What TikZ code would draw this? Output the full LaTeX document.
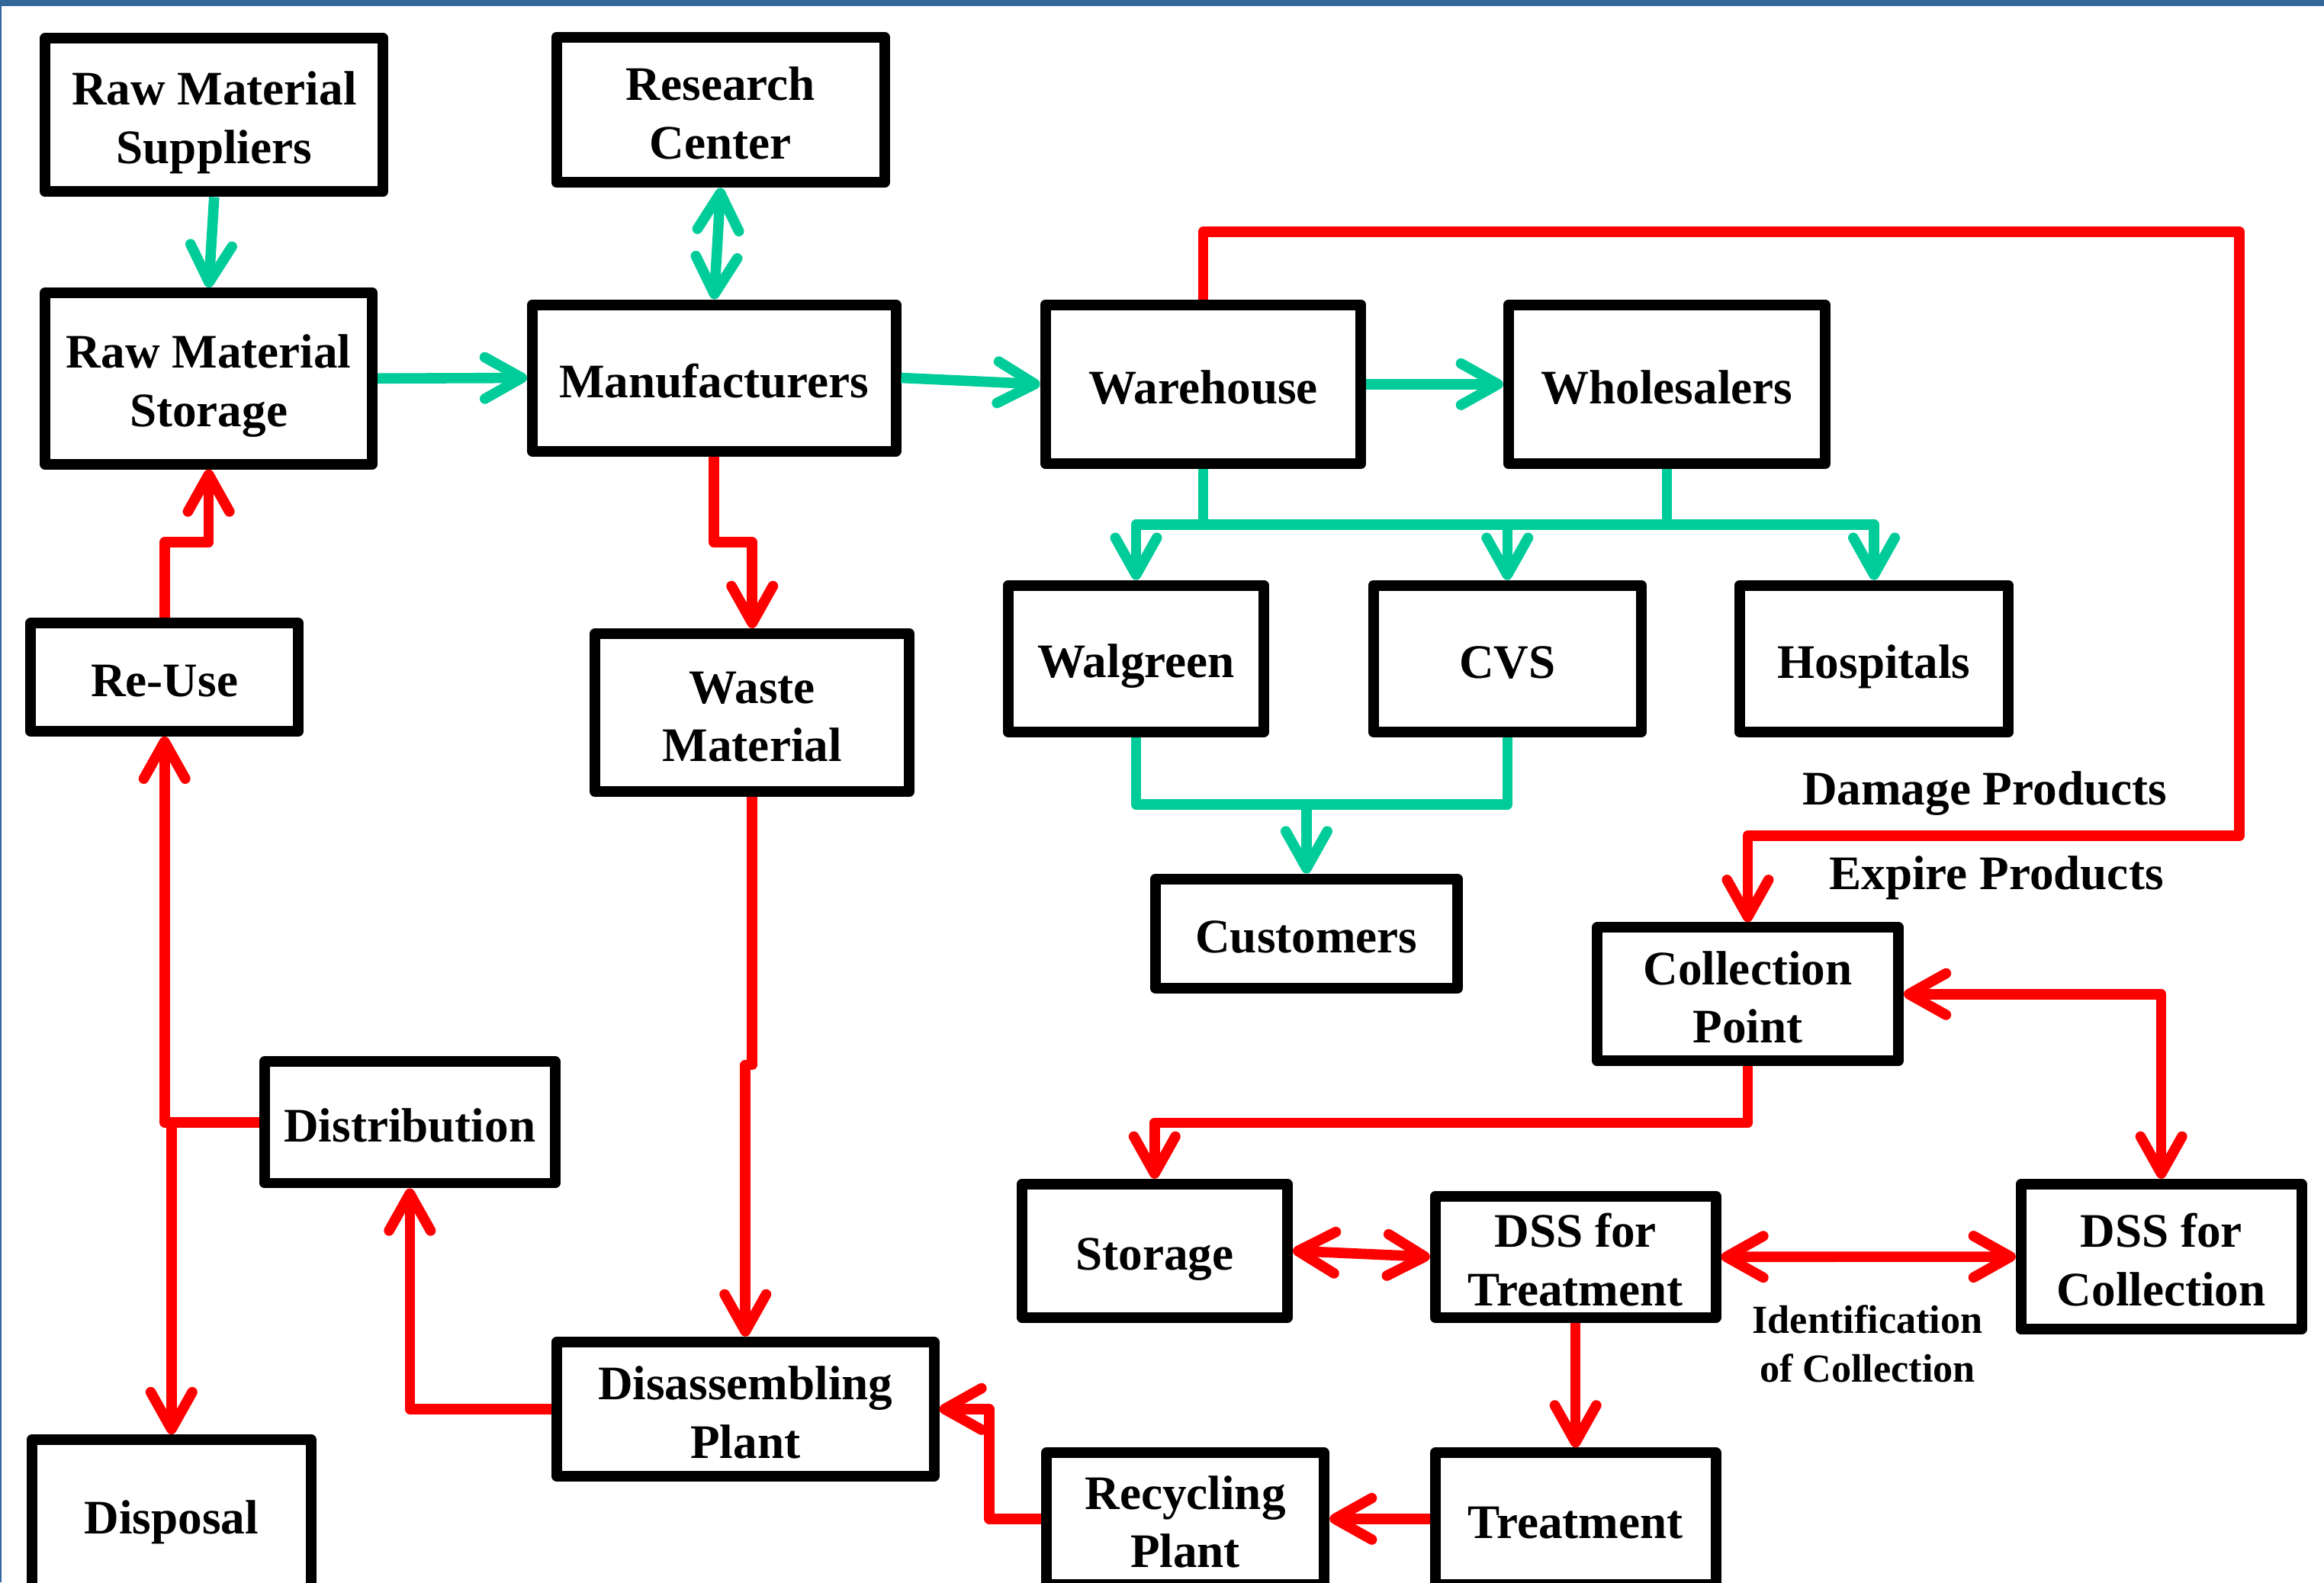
\documentclass[tikz,border=0pt]{standalone}
\usepackage{fontspec}
\setmainfont{Liberation Serif}
\usetikzlibrary{arrows.meta}
\definecolor{gline}{RGB}{0,204,153}
\definecolor{rline}{RGB}{255,0,0}
\definecolor{topblue}{RGB}{51,102,153}
\newcommand\ts{\rule{0pt}{0.66cm}}
\newcommand\bs{\rule[-0.13cm]{0pt}{0.13cm}}
\tikzset{
  box/.style={draw=black, line width=0.144cm, line join=round, fill=white, inner sep=0pt,
    align=center, font=\bfseries\fontsize{18.5}{22.5}\selectfont},
  sz/.style 2 args={minimum width=#1*0.02cm, minimum height=#2*0.02cm},
  lab/.style={font=\bfseries\fontsize{18.5}{22.5}\selectfont, inner sep=0pt},
  smalllab/.style={align=center, font=\bfseries\fontsize{15.3}{18.7}\selectfont, inner sep=0pt},
  g/.style={draw=gline, line width=0.14cm, line join=round},
  r/.style={draw=rline, line width=0.14cm, line join=round},
  barb/.tip={Straight Barb[length=0.5cm,width=0.56cm,round]},
  ga/.style={g, -barb},
  ra/.style={r, -barb},
  rd/.style={r, barb-barb},
  gd/.style={g, barb-barb},
}
\begin{document}
\begin{tikzpicture}[x=0.02cm, y=-0.02cm]
\useasboundingbox (0,0) rectangle (1568,1068);
\clip (0,0) rectangle (1568,1068);
\fill[white] (0,0) rectangle (1568,1068);
\fill[topblue] (0,0) rectangle (1568,4);
\fill[topblue] (0,0) rectangle (1,1068);

% nodes
\node[box, sz={227.8}{103.8}] (rms) at (144.5,77.5) {\ts Raw Material\\Suppliers\bs};
\node[box, sz={221.3}{98.2}] (rc) at (486.2,74.1) {\ts Research\\Center\bs};
\node[box, sz={220.8}{115.5}] (rmst) at (140.8,255.4) {\ts Raw Material\\Storage\bs};
\node[box, sz={245.2}{98.8}] (mf) at (481.8,255) {\ts Manufacturers\bs};
\node[box, sz={212.9}{107.3}] (wh) at (811.8,259.3) {\ts Warehouse\bs};
\node[box, sz={213.6}{107.3}] (ws) at (1124.6,259.3) {\ts Wholesalers\bs};
\node[box, sz={172.7}{98.9}] (wg) at (766.5,444.5) {\ts Walgreen\bs};
\node[box, sz={180.8}{98.9}] (cvs) at (1017,444.5) {\ts CVS\bs};
\node[box, sz={181.5}{98.9}] (hs) at (1264.4,444.5) {\ts Hospitals\bs};
\node[box, sz={203.8}{73.8}] (cu) at (881.5,630) {\ts Customers\bs};
\node[box, sz={180.8}{72.8}] (ru) at (111,457) {\ts Re-Use\bs};
\node[box, sz={211.8}{106.8}] (wm) at (507.5,481) {\ts Waste\\Material\bs};
\node[box, sz={203.3}{90}] (cp) at (1179.2,670.9) {\ts Collection\\Point\bs};
\node[box, sz={195.8}{82}] (dist) at (276.5,757.4) {\ts Distribution\bs};
\node[box, sz={179.2}{90}] (st) at (779,844.1) {\ts Storage\bs};
\node[box, sz={189.2}{81.9}] (dsst) at (1063,848.2) {\ts DSS for\\Treatment\bs};
\node[box, sz={189.2}{98}] (dssc) at (1458.2,848.1) {\ts DSS for\\Collection\bs};
\node[box, sz={254.5}{90.6}] (dp) at (502.9,950.9) {\ts Disassembling\\Plant\bs};
\node[box, sz={188.3}{100.8}] (dsp) at (115.7,1022) {\ts Disposal\bs};
\node[box, sz={187.5}{89}] (rp) at (799.7,1025) {\ts Recycling\\Plant\bs};
\node[box, sz={189.2}{89}] (tr) at (1063,1025) {\ts Treatment\bs};

% labels
\node[lab, anchor=base] (dmg) at (1339,543) {Damage Products};
\node[lab, anchor=base] (exp) at (1347,600.5) {Expire Products};
\node[smalllab] (idc) at (1260,907) {Identification\\of Collection};

% green connectors
\coordinate (bus) at (0,354);
\coordinate (bus2) at (0,543);
\draw[ga] (rms.south) -- (rmst.north);
\draw[gd] (rc.south) -- (mf.north);
\draw[ga] (rmst.east) -- (mf.west);
\draw[ga] (mf.east) -- (wh.west);
\draw[ga] (wh.east) -- (ws.west);
\draw[g] (wh.south) -- (wh.south |- bus);
\draw[g] (ws.south) -- (ws.south |- bus);
\draw[ga] (cvs.north |- bus) -- (wg.north |- bus) -- (wg.north);
\draw[ga] (cvs.north |- bus) -- (hs.north |- bus) -- (hs.north);
\draw[ga] (cvs.north |- bus) -- (cvs.north);
\draw[g] (wg.south) |- (cvs.south |- bus2) -- (cvs.south);
\draw[ga] (cu.north |- bus2) -- (cu.north);

% red connectors
\coordinate (rowA) at (0,366);
\coordinate (jog) at (0,718.7);
\coordinate (cpy) at (0,757.7);
\coordinate (rt) at (1511,156.5);
\coordinate (rb) at (1511,564);
\draw[ra] (mf.south) -- (mf.south |- rowA) -| (wm.north);
\draw[ra] (ru.north) -- (ru.north |- rowA) -| (rmst.south);
\draw[ra] (dist.west) -| (ru.south);
\draw[ra] (dsp.north |- dist.west) -- (dsp.north);
\draw[ra] (dp.west) -| (dist.south);
\draw[ra] (wm.south) -- (wm.south |- jog) -- (dp.north |- jog) -- (dp.north);
\draw[ra] (rp.west) -- ++(-35,0) |- (dp.east);
\draw[ra] (tr.west) -- (rp.east);
\draw[ra] (dsst.south) -- (tr.north);
\draw[rd] (st.east) -- (dsst.west);
\draw[rd] (dsst.east) -- (dssc.west);
\draw[rd] (cp.east) -| (dssc.north);
\draw[ra] (cp.south) -- (cp.south |- cpy) -| (st.north);
\draw[ra] (wh.north) |- (rt) -- (rb) -| (cp.north);
\end{tikzpicture}
\end{document}
